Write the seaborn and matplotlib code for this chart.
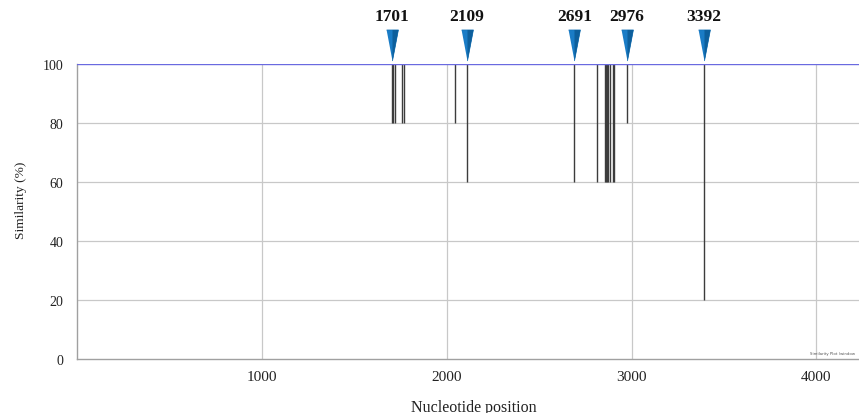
import matplotlib
matplotlib.use("Agg")
import matplotlib.pyplot as plt
import seaborn as sns
import pandas as pd

# ---- data ----
x_range = [0, 4231]                     # extent of the similarity profile shown
baseline = [100, 100]                   # similarity level of the profile
dip_pos = [1703, 1710, 1719, 1757, 1768, 2044, 2109,
           2691, 2814, 2856, 2862, 2868, 2875, 2882, 2897, 2906, 2976, 3392]
dip_min = [80, 80, 80, 80, 80, 80, 60,
           60, 60, 60, 60, 60, 60, 60, 60, 60, 80, 20]
marker_pos = [1701, 2109, 2691, 2976, 3392]
marker_labels = ["1701", "2109", "2691", "2976", "3392"]
x_ticks = [1000, 2000, 3000, 4000]
y_ticks = [0, 20, 40, 60, 80, 100]

sns.set_theme(style="white")
plt.rcParams["font.family"] = ["Liberation Serif", "DejaVu Serif"]

fig = plt.figure(figsize=(8.59, 4.14), dpi=100)
ax = fig.add_axes([0.090, 0.130, 0.910, 0.713])

# grid
for xt in x_ticks:
    ax.axvline(xt, color="#c8c8c8", lw=0.9, zorder=0)
for yt in y_ticks[1:-1]:
    ax.axhline(yt, color="#c8c8c8", lw=0.9, zorder=0)

# profile baseline
df = pd.DataFrame({"pos": x_range, "sim": baseline})
sns.lineplot(data=df, x="pos", y="sim", ax=ax, color="#6a6ae0", lw=1.0, zorder=3)

# dips
ax.vlines(dip_pos, dip_min, 100, colors="#3c3c3c", lw=1.0, zorder=2)

# markers (two-tone to mimic the gradient)
tri = [(-0.19, 0.5), (0.19, 0.5), (0, -0.5)]
tri_right = [(0.0, 0.5), (0.19, 0.5), (0, -0.5)]
ys = [106.3] * len(marker_pos)
ax.scatter(marker_pos, ys, marker=tri, s=500, color="#1a7cc6",
           edgecolors="#1270b4", linewidths=0.5, clip_on=False, zorder=5)
ax.scatter(marker_pos, ys, marker=tri_right, s=500, color="#0d5f9c",
           linewidths=0, clip_on=False, zorder=6)
for p, lab in zip(marker_pos, marker_labels):
    ax.text(p, 116.3, lab, ha="center", va="center", fontsize=12.5,
            fontweight="bold", color="#111111", clip_on=False)

ax.set_xlim(x_range)
ax.set_ylim(0, 100)
ax.set_xticks(x_ticks)
ax.set_yticks(y_ticks)
ax.tick_params(axis="both", length=0, colors="#222222")
ax.tick_params(axis="y", pad=10, labelsize=10)
ax.tick_params(axis="x", pad=8, labelsize=11)

for s in ["top", "right"]:
    ax.spines[s].set_visible(False)
for s in ["left", "bottom"]:
    ax.spines[s].set_color("#a0a0a0")
    ax.spines[s].set_linewidth(1.0)

ax.set_xlabel("Nucleotide position", fontsize=11.5, color="#222222")
ax.xaxis.set_label_coords(0.507, -0.134)
ax.set_ylabel("Similarity (%)", fontsize=9.6, color="#222222")
ax.yaxis.set_label_coords(-0.0646, 0.542)

ax.text(3966, 1.5, "Similarity Plot (window", ha="left", va="bottom",
        fontsize=2.8, color="#555555", family="DejaVu Sans")

fig.savefig("out.png", dpi=100)
